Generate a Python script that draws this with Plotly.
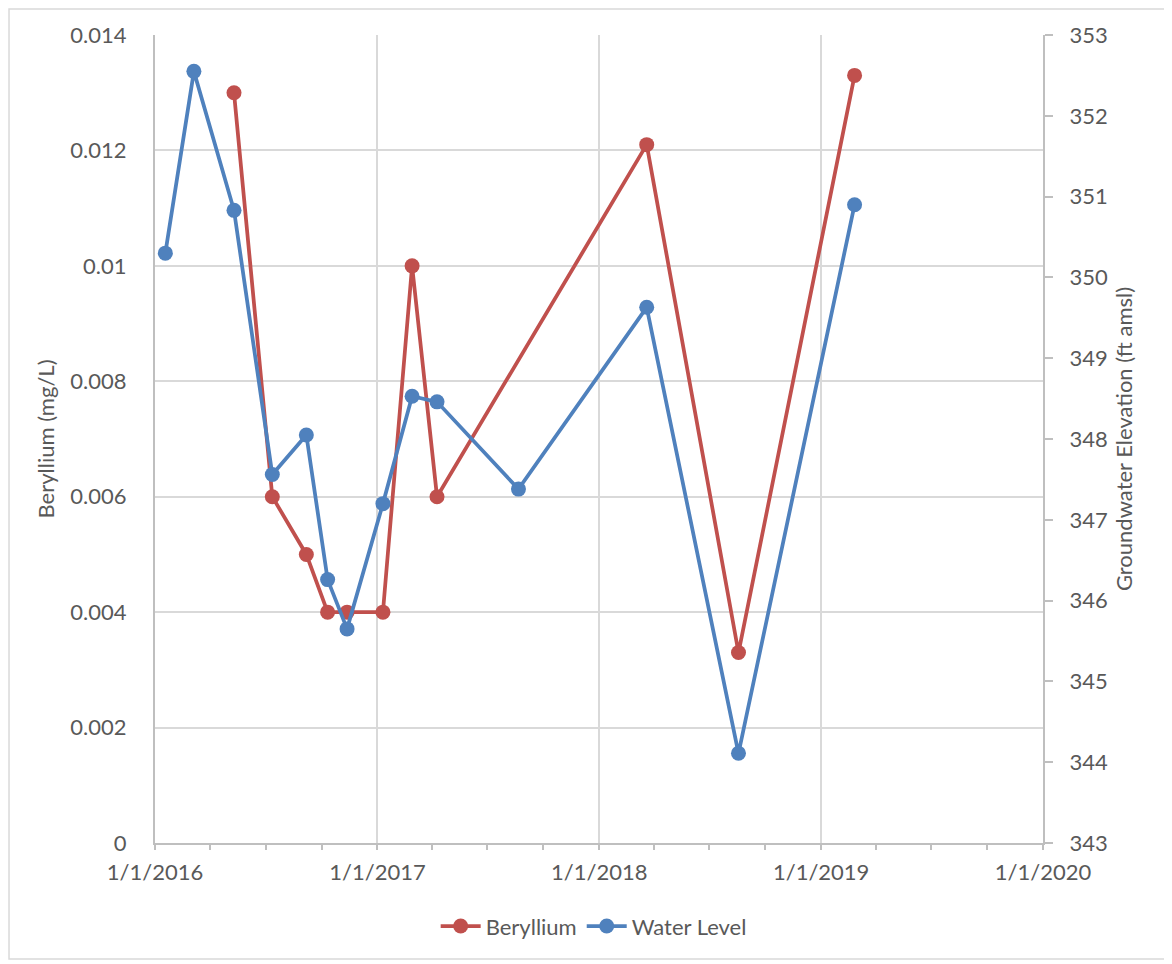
import plotly.graph_objects as go

# ---- data ----
be_dates = ["2016-05-10", "2016-07-12", "2016-09-06", "2016-10-11", "2016-11-12",
            "2017-01-10", "2017-02-27", "2017-04-09", "2018-03-20", "2018-08-18",
            "2019-02-25"]
be_values = [0.013, 0.006, 0.005, 0.004, 0.004, 0.004, 0.010, 0.006, 0.0121, 0.0033, 0.0133]

wl_dates = ["2016-01-18", "2016-03-05", "2016-05-10", "2016-07-12", "2016-09-06",
            "2016-10-11", "2016-11-12", "2017-01-10", "2017-02-27", "2017-04-09",
            "2017-08-21", "2018-03-20", "2018-08-18", "2019-02-25"]
wl_values = [350.30, 352.55, 350.83, 347.56, 348.05, 346.26, 345.65, 347.20,
             348.53, 348.46, 347.38, 349.63, 344.11, 350.90]

y1_tickvals = [0, 0.002, 0.004, 0.006, 0.008, 0.010, 0.012, 0.014]
y1_ticktext = ["0", "0.002", "0.004", "0.006", "0.008", "0.01", "0.012", "0.014"]

RED = "#C0504D"
BLUE = "#4F81BD"
TXT = "#595959"
GRID = "#D9D9D9"
AX = "#BFBFBF"
FONT = "Lato"
FS = 22

fig = go.Figure()
fig.add_trace(go.Scatter(
    x=be_dates, y=be_values, name="Beryllium", mode="lines+markers",
    line=dict(color=RED, width=3.75), marker=dict(color=RED, size=15),
    yaxis="y"))
fig.add_trace(go.Scatter(
    x=wl_dates, y=wl_values, name="Water Level", mode="lines+markers",
    line=dict(color=BLUE, width=3.75), marker=dict(color=BLUE, size=15),
    yaxis="y2"))

fig.update_layout(
    width=1164, height=956,
    margin=dict(l=147, r=129, t=27, b=121),
    paper_bgcolor="white", plot_bgcolor="white",
    font=dict(family=FONT, size=FS, color=TXT),
    showlegend=True,
    legend=dict(orientation="h", x=0.494, y=-0.103, xanchor="center", yanchor="middle",
                font=dict(size=FS, color=TXT), itemwidth=40),
    xaxis=dict(
        type="date", range=["2016-01-01", "2020-01-01"],
        dtick="M12", tick0="2016-01-01", tickformat="%-m/%-d/%Y",
        showgrid=True, gridcolor=GRID, gridwidth=1.5,
        showline=True, linecolor=AX, linewidth=2,
        ticks="outside", ticklen=5, tickcolor=AX, tickwidth=1.5,
        minor=dict(dtick="M3", ticks="outside", ticklen=5, tickcolor=AX, tickwidth=1.5,
                   showgrid=False),
        tickfont=dict(size=FS, color=TXT), ticklabelstandoff=4,
        zeroline=False,
    ),
    yaxis=dict(
        range=[0, 0.014], tickvals=y1_tickvals, ticktext=y1_ticktext,
        showgrid=True, gridcolor=GRID, gridwidth=1.5,
        showline=True, linecolor=AX, linewidth=2, ticks="",
        zeroline=False, ticklabelstandoff=22,
        tickfont=dict(size=FS, color=TXT),
        title=dict(text="Beryllium (mg/L)", font=dict(size=FS, color=TXT), standoff=10),
    ),
    yaxis2=dict(
        range=[343, 353], dtick=1, overlaying="y", side="right",
        showgrid=False, showline=True, linecolor=AX, linewidth=2,
        ticks="outside", ticklen=8, tickcolor=AX, tickwidth=1.5,
        zeroline=False, ticklabelstandoff=12,
        tickfont=dict(size=FS, color=TXT),
        title=dict(text="Groundwater Elevation (ft amsl)", font=dict(size=FS, color=TXT), standoff=10),
    ),
)

# outer chart border
fig.add_shape(type="rect", xref="paper", yref="paper",
              x0=-0.1644, x1=1.1374, y0=-0.1436, y1=1.0322,
              line=dict(color=GRID, width=1.5), layer="below")

fig.write_html("out.html")
